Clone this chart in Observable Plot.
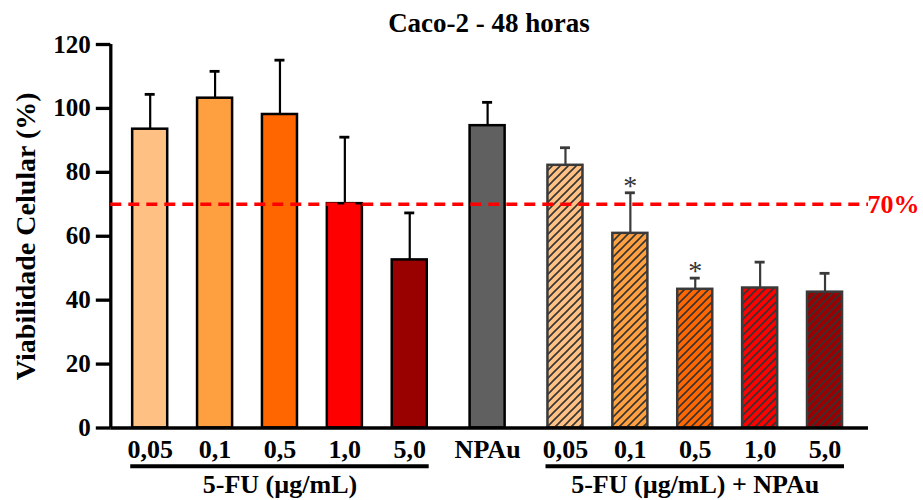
<!DOCTYPE html>
<html><head><meta charset="utf-8">
<script src="https://cdn.jsdelivr.net/npm/d3@7"></script>
<script src="https://cdn.jsdelivr.net/npm/@observablehq/plot@0.6"></script>
<style>
body{margin:0;background:#fff;}
#wrap{position:relative;width:923px;height:500px;overflow:hidden;}
#title{position:absolute;left:110px;width:758px;top:10px;text-align:center;font:bold 27px/26px "Liberation Serif",serif;color:#000;}
#chart{position:absolute;left:0;top:30px;}
</style></head><body>
<div id="wrap"><div id="title">Caco-2 - 48 horas</div><div id="chart"></div></div>
<script>
// ---- data ----
const labels = ["0,05","0,1","0,5","1,0","5,0","NPAu","0,05","0,1","0,5","1,0","5,0"];
const groups = ["5-FU","5-FU","5-FU","5-FU","5-FU","NPAu","5-FU + NPAu","5-FU + NPAu","5-FU + NPAu","5-FU + NPAu","5-FU + NPAu"];
const means  = [93.5, 103.2, 98.1, 70.2, 52.6, 94.6, 82.2, 60.9, 43.4, 43.8, 42.5];
const sds    = [10.9, 8.4, 17.0, 20.8, 14.7, 7.3, 5.5, 12.7, 3.5, 8.1, 5.9];
const signif = ["", "", "", "", "", "", "", "*", "*", "", ""];
const yTicks = [0, 20, 40, 60, 80, 100, 120];
const yLabel = "Viabilidade Celular (%)";
const groupTitles = {"5-FU": "5-FU (µg/mL)", "5-FU + NPAu": "5-FU (µg/mL) + NPAu"};
const hatchedGroup = "5-FU + NPAu";
const threshold = 70;
const thresholdLabel = "70%";
const colorDomain = ["0,05","0,1","0,5","1,0","5,0","NPAu"];
const colorRange  = ["#FFC183","#FFA040","#FF6600","#FF0000","#990000","#606060"];

// ---- layout helpers ----
const groupOrder = [...new Set(groups)];
const groupGap = 0.2;
const half = 0.27;
const capHalf = 0.077;
const xDomain = [-0.607, 11.07];
const data = labels.map((label, i) => ({
  label, group: groups[i], mean: means[i], sd: sds[i], top: means[i] + sds[i],
  sig: signif[i], hatched: groups[i] === hatchedGroup,
  pos: i + groupOrder.indexOf(groups[i]) * groupGap
}));
const solid = data.filter(d => !d.hatched);
const hatched = data.filter(d => d.hatched);
const spans = Object.keys(groupTitles).map(g => {
  const ps = data.filter(d => d.group === g).map(d => d.pos);
  return {title: groupTitles[g], x1: d3.min(ps) - 0.3, x2: d3.max(ps) + 0.3, cx: (d3.min(ps) + d3.max(ps)) / 2};
});

const svg = Plot.plot({
  width: 923, height: 470,
  marginLeft: 110.3, marginRight: 55, marginTop: 14, marginBottom: 72.5,
  style: {fontFamily: '"Liberation Serif", serif', fontWeight: "bold", fontSize: "25px", color: "#000", background: "transparent", overflow: "visible"},
  x: {type: "linear", domain: xDomain, axis: null},
  y: {domain: [0, 120], axis: null, label: null},
  color: {domain: colorDomain, range: colorRange},
  marks: [
    // error bars
    Plot.ruleX(solid, {x: "pos", y1: "mean", y2: "top", stroke: "#000", strokeWidth: 2.2}),
    Plot.ruleY(solid, {y: "top", x1: d => d.pos - capHalf, x2: d => d.pos + capHalf, stroke: "#000", strokeWidth: 2.8}),
    Plot.ruleX(hatched, {x: "pos", y1: "mean", y2: "top", stroke: "#3a3a3a", strokeWidth: 2.2}),
    Plot.ruleY(hatched, {y: "top", x1: d => d.pos - capHalf, x2: d => d.pos + capHalf, stroke: "#3a3a3a", strokeWidth: 2.8}),
    // bars
    Plot.rectY(solid, {x1: d => d.pos - half, x2: d => d.pos + half, y1: 0, y2: "mean", fill: "label", stroke: "#000", strokeWidth: 2.5}),
    Plot.rectY(hatched, {x1: d => d.pos - half, x2: d => d.pos + half, y1: 0, y2: "mean", fill: "label"}),
    Plot.rectY(hatched, {x1: d => d.pos - half, x2: d => d.pos + half, y1: 0, y2: "mean", fill: "url(#hatch)", stroke: "#3a3a3a", strokeWidth: 2.5}),
    // significance
    Plot.text(hatched.filter(d => d.sig), {x: "pos", y: "top", text: "sig", dy: -7, fontWeight: "normal", fontSize: 28, fill: "#333"}),
    // axes
    Plot.ruleX([xDomain[0]], {strokeWidth: 3.3}),
    Plot.ruleY([0], {strokeWidth: 3.5}),
    Plot.axisY({ticks: yTicks, tickSize: 14.5, tickPadding: 5.5, strokeWidth: 3.3, fontSize: 25, label: null}),
    Plot.axisX({ticks: data.map(d => d.pos), tickFormat: (d, i) => labels[i], tickSize: 0, tickPadding: 11.5, fontSize: 26, label: null}),
    Plot.text([yLabel], {frameAnchor: "left", rotate: -90, text: d => d, textAnchor: "middle", dx: -84.3, fontSize: 28}),
    // group underlines and titles
    Plot.ruleY(spans, {y: 0, x1: "x1", x2: "x2", dy: 38.2, strokeWidth: 4}),
    Plot.text(spans, {x: "cx", y: 0, text: "title", dy: 65.2, lineAnchor: "bottom", fontSize: 26}),
    // threshold
    Plot.ruleY([threshold], {stroke: "#FF0000", strokeWidth: 3.5, strokeDasharray: "11,7"}),
    Plot.text([threshold], {y: d => d, frameAnchor: "right", text: () => thresholdLabel, textAnchor: "start", dx: -1, fill: "#FF0000", fontSize: 26})
  ]
});

const defs = d3.select(svg).insert("defs", ":first-child");
const pat = defs.append("pattern").attr("id", "hatch").attr("patternUnits", "userSpaceOnUse").attr("width", 8).attr("height", 8);
pat.append("path").attr("d", "M-2,2 L2,-2 M0,8 L8,0 M6,10 L10,6").attr("stroke", "#333").attr("stroke-width", 1.6).attr("fill", "none");

document.getElementById("chart").appendChild(svg);
</script>
</body></html>
